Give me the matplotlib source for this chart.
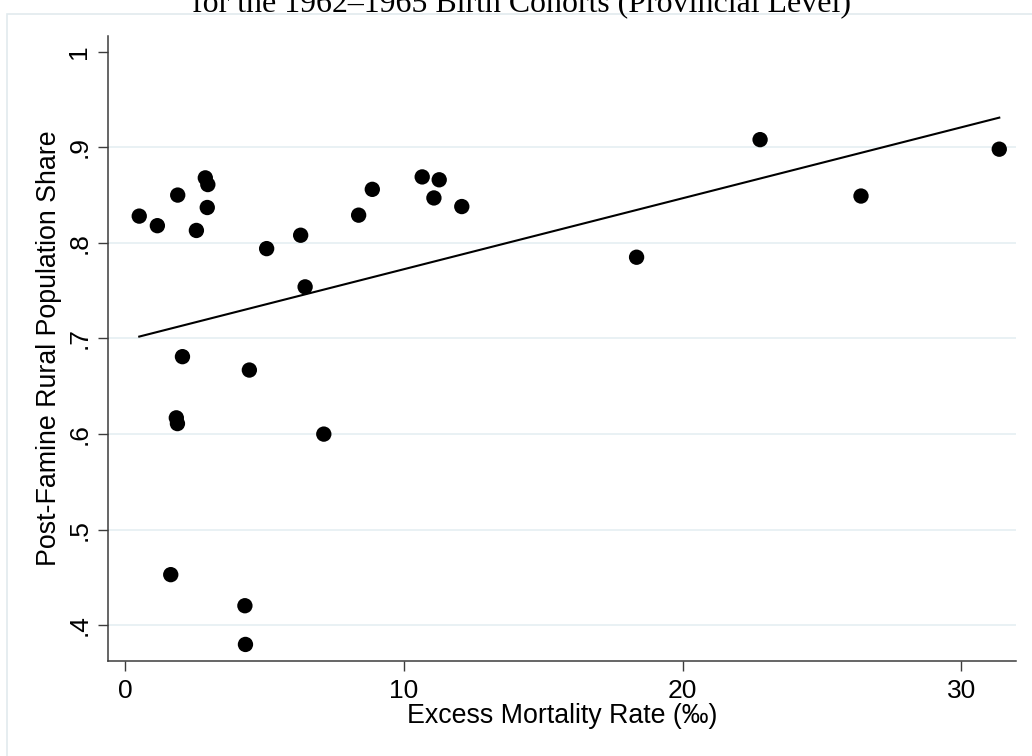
import matplotlib
matplotlib.use("Agg")
import matplotlib.pyplot as plt
from matplotlib.patches import Rectangle

# ---- data ----
excess_mortality = [0.51, 1.16, 1.89, 2.56, 2.88, 2.97, 2.95, 5.08, 6.30, 6.46,
                    8.38, 8.87, 10.66, 11.27, 11.08, 12.08, 18.35, 22.78, 26.40, 31.36,
                    2.06, 4.46, 1.84, 1.88, 7.13, 1.64, 4.30, 4.32]
rural_share = [0.828, 0.818, 0.850, 0.813, 0.868, 0.861, 0.837, 0.794, 0.808, 0.754,
               0.829, 0.856, 0.869, 0.866, 0.847, 0.838, 0.785, 0.908, 0.849, 0.898,
               0.681, 0.667, 0.617, 0.611, 0.600, 0.453, 0.4205, 0.380]
fit_x = [0.51, 31.36]
fit_y = [0.702, 0.931]

x_ticks = [0, 10, 20, 30]
x_tick_labels = ["0", "10", "20", "30"]
y_ticks = [0.4, 0.5, 0.6, 0.7, 0.8, 0.9, 1.0]
y_tick_labels = [".4", ".5", ".6", ".7", ".8", ".9", "1"]
grid_levels = [0.4, 0.5, 0.6, 0.7, 0.8, 0.9]

title_text = "for the 1962\u20131965 Birth Cohorts (Provincial Level)"
x_label = "Excess Mortality Rate (\u2030)"
y_label = "Post-Famine Rural Population Share"

plt.rcParams['font.family'] = ['Liberation Sans', 'DejaVu Sans']

W, H = 1032, 756
fig = plt.figure(figsize=(W / 100, H / 100), dpi=100)
fig.patch.set_facecolor('white')

# light graph-region border (cropped at right/bottom)
fig.patches.append(Rectangle((7 / W, -0.05), 1.2, 1 - 13.5 / H + 0.05,
                             transform=fig.transFigure, fill=False,
                             edgecolor='#e1eaee', lw=1.2))

left, right, bottom, top = 108.3, 1016, 660.7, 35.7
ax = fig.add_axes([left / W, 1 - bottom / H, (right - left) / W, (bottom - top) / H])
ax.set_xlim(-0.6, 31.96)
ax.set_ylim(0.363, 1.0167)

for g in grid_levels:
    ax.axhline(g, color='#e5eff2', lw=1.2, zorder=0)

ax.scatter(excess_mortality, rural_share, s=122, color='black', edgecolors='none', zorder=3)
ax.plot(fit_x, fit_y, color='black', lw=1.5, zorder=2)

for s in ['top', 'right']:
    ax.spines[s].set_visible(False)
for s in ['left', 'bottom']:
    ax.spines[s].set_color('#3c3c3c')
    ax.spines[s].set_linewidth(1.1)

ax.set_xticks(x_ticks)
ax.set_xticklabels(x_tick_labels)
ax.set_yticks(y_ticks)
ax.set_yticklabels(y_tick_labels, rotation=90, va='center')
ax.tick_params(axis='both', direction='out', length=7.3, width=1.0, color='#3c3c3c',
               labelsize=19, labelcolor='black')
ax.tick_params(axis='x', pad=6)
ax.tick_params(axis='y', pad=5)

ax.set_xlabel(x_label, fontsize=19.3, labelpad=0)
ax.set_ylabel(y_label, fontsize=19.3, labelpad=4)

# title, cropped at top
t = fig.text(521.5 / W, 1 - 11 / H, title_text, ha='center', va='baseline',
             fontsize=20, family=['Liberation Serif', 'DejaVu Serif'])
fig.canvas.draw()
w = t.get_window_extent().width
t.set_fontsize(20 * 657 / w)

fig.savefig("out.png", dpi=100)
